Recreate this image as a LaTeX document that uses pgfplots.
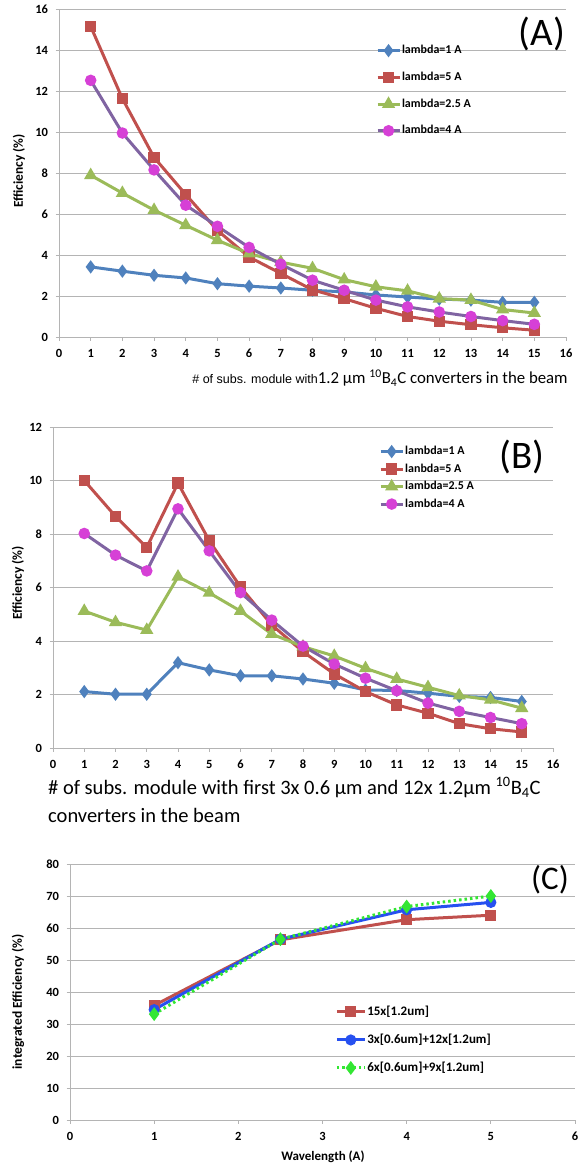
\documentclass[border=0pt]{standalone}
\usepackage{fontspec}
\setmainfont{Carlito}
\newfontfamily\arialfont{Liberation Sans}
\usepackage{pgfplots}
\pgfplotsset{compat=1.18}

\definecolor{xlblue}{HTML}{4F81BD}
\definecolor{xlred}{HTML}{C0504D}
\definecolor{xlgreen}{HTML}{9BBB59}
\definecolor{xlpurple}{HTML}{8064A2}
\definecolor{xlmagenta}{HTML}{D640D6}
\definecolor{cblue}{HTML}{2650F0}
\definecolor{cgreen}{HTML}{33E633}
\definecolor{gridgray}{HTML}{B4B4B4}

\pgfplotsset{
  xlstyle/.style={
    scale only axis,
    axis x line*=bottom, axis y line*=left,
    axis line style={gridgray, line width=0.8pt},
    ymajorgrids, grid style={gridgray, line width=0.8pt},
    tick align=outside, major tick length=3.5pt,
    tick style={gridgray, line width=0.8pt},
    /pgf/number format/assume math mode=true,
    ticklabel style={font=\bfseries\fontsize{12.5}{13}\selectfont},
    xticklabel style={yshift=-5pt},
    yticklabel style={xshift=-4pt},
    clip=false,
    legend cell align=left,
    legend image code/.code={\draw[mark repeat=2,mark phase=2,##1] plot coordinates {(0pt,0pt) (11pt,0pt) (22pt,0pt)};},
  },
  ser/.style={line width=3pt, mark options={solid}},
}

\begin{document}
\begin{tikzpicture}
\path[use as bounding box] (0pt,0pt) rectangle (579pt,-1166pt);

% ---------------- (A)
\begin{axis}[xlstyle,
  at={(59pt,-337pt)}, anchor=south west,
  width=507pt, height=328pt,
  xmin=0, xmax=16, ymin=0, ymax=16,
  xtick={0,1,...,16}, ytick={0,2,...,16},
  legend style={at={(0.619,0.898)}, anchor=north west, draw=none, fill=none,
    font=\bfseries\fontsize{12}{12}\selectfont,
    nodes={text height=8pt, text depth=2pt, inner sep=1pt}, row sep=14.7pt},
]
\addplot[ser, color=xlblue, mark=diamond*, mark size=4.2pt] coordinates {
 (1,3.42)(2,3.21)(3,3.01)(4,2.88)(5,2.6)(6,2.48)(7,2.39)(8,2.28)(9,2.2)(10,2.05)(11,1.95)(12,1.85)(13,1.8)(14,1.69)(15,1.69)};
\addlegendentry{lambda=1 A}
\addplot[ser, color=xlred, mark=square*, mark size=4.2pt] coordinates {
 (1,15.15)(2,11.63)(3,8.76)(4,6.95)(5,5.2)(6,3.9)(7,3.1)(8,2.3)(9,1.87)(10,1.4)(11,1.0)(12,0.77)(13,0.6)(14,0.45)(15,0.33)};
\addlegendentry{lambda=5 A}
\addplot[ser, color=xlgreen, mark=triangle*, mark size=4.7pt] coordinates {
 (1,7.89)(2,7.02)(3,6.19)(4,5.45)(5,4.72)(6,4.07)(7,3.65)(8,3.35)(9,2.8)(10,2.45)(11,2.25)(12,1.87)(13,1.8)(14,1.34)(15,1.17)};
\addlegendentry{lambda=2.5 A}
\addplot[ser, color=xlpurple, mark=*, mark size=4.2pt, mark options={fill=xlmagenta, draw=xlmagenta}] coordinates {
 (1,12.52)(2,9.95)(3,8.15)(4,6.43)(5,5.4)(6,4.37)(7,3.55)(8,2.77)(9,2.28)(10,1.8)(11,1.47)(12,1.22)(13,1.0)(14,0.8)(15,0.62)};
\addlegendentry{lambda=4 A}
\end{axis}

% ---------------- (B)
\begin{axis}[xlstyle,
  at={(53pt,-748pt)}, anchor=south west,
  width=500pt, height=321pt,
  xmin=0, xmax=16, ymin=0, ymax=12,
  xtick={0,1,...,16}, ytick={0,2,...,12},
  legend style={at={(0.646,0.949)}, anchor=north west, draw=none, fill=none,
    font=\bfseries\fontsize{12}{12}\selectfont,
    nodes={text height=8pt, text depth=2pt, inner sep=1pt}, row sep=5.5pt},
]
\addplot[ser, color=xlblue, mark=diamond*, mark size=4.2pt] coordinates {
 (1,2.11)(2,2.01)(3,2.01)(4,3.19)(5,2.92)(6,2.7)(7,2.7)(8,2.58)(9,2.42)(10,2.17)(11,2.15)(12,2.05)(13,1.93)(14,1.89)(15,1.74)};
\addlegendentry{lambda=1 A}
\addplot[ser, color=xlred, mark=square*, mark size=4.2pt] coordinates {
 (1,10.0)(2,8.66)(3,7.5)(4,9.9)(5,7.75)(6,6.02)(7,4.6)(8,3.6)(9,2.77)(10,2.11)(11,1.61)(12,1.3)(13,0.91)(14,0.72)(15,0.6)};
\addlegendentry{lanbda=5 A}
\addplot[ser, color=xlgreen, mark=triangle*, mark size=4.7pt] coordinates {
 (1,5.12)(2,4.7)(3,4.41)(4,6.4)(5,5.8)(6,5.12)(7,4.26)(8,3.79)(9,3.44)(10,2.98)(11,2.58)(12,2.27)(13,1.96)(14,1.8)(15,1.49)};
\addlegendentry{lambda=2.5 A}
\addplot[ser, color=xlpurple, mark=*, mark size=4.2pt, mark options={fill=xlmagenta, draw=xlmagenta}] coordinates {
 (1,8.02)(2,7.21)(3,6.62)(4,8.94)(5,7.37)(6,5.81)(7,4.78)(8,3.81)(9,3.14)(10,2.61)(11,2.14)(12,1.68)(13,1.37)(14,1.14)(15,0.91)};
\addlegendentry{lambda=4 A}
\end{axis}

% ---------------- (C)
\begin{axis}[xlstyle,
  at={(70pt,-1120pt)}, anchor=south west,
  width=505pt, height=256pt,
  xmin=0, xmax=6, ymin=0, ymax=80,
  xtick={0,1,...,6}, ytick={0,10,...,80},
  legend image code/.code={\draw[mark repeat=2,mark phase=2,#1] plot coordinates {(0pt,0pt) (14pt,0pt) (28pt,0pt)};},
  legend style={at={(0.519,0.457)}, anchor=north west, draw=none, fill=none,
    font=\bfseries\fontsize{13}{14}\selectfont,
    nodes={text height=9pt, text depth=2.5pt, inner sep=1pt}, row sep=14.5pt},
]
\addplot[ser, color=xlred, mark=square*, mark size=4pt] coordinates {
 (1,35.8)(2.5,56.3)(4,62.6)(5,64.0)};
\addlegendentry{15x[1.2um]}
\addplot[ser, color=cblue, mark=*, mark size=4pt] coordinates {
 (1,34.5)(2.5,56.5)(4,65.7)(5,68.0)};
\addlegendentry{3x[0.6um]+12x[1.2um]}
\addplot[ser, color=cgreen, dash pattern=on 2.5pt off 3pt, mark=diamond*, mark size=4.5pt] coordinates {
 (1,33.1)(2.5,56.5)(4,66.7)(5,70.0)};
\addlegendentry{6x[0.6um]+9x[1.2um]}
\end{axis}

% ---------------- labels
\node[font=\fontsize{39}{40}\selectfont] at (542pt,-34pt) {(A)};
\node[font=\fontsize{39}{40}\selectfont] at (522pt,-457pt) {(B)};
\node[font=\fontsize{33}{34}\selectfont] at (550pt,-880pt) {(C)};

\node[rotate=90, font=\bfseries\fontsize{13.5}{14}\selectfont] at (19pt,-171pt) {Efficiency (\%)};
\node[rotate=90, font=\bfseries\fontsize{13.5}{14}\selectfont] at (18pt,-583pt) {Efficiency (\%)};
\node[rotate=90, font=\bfseries\fontsize{13.5}{14}\selectfont] at (18pt,-1002pt) {integrated Efficiency (\%)};

\node at (380pt,-378pt) {{\arialfont\fontsize{12.5}{14}\selectfont \# of subs. module with}{\fontsize{16.8}{18}\selectfont 1.2 µm \textsuperscript{10}B\textsubscript{4}C converters in the beam}};
\node[anchor=north west, align=left, inner sep=0pt, font=\fontsize{20.5}{28}\selectfont] at (48pt,-777pt)
  {\# of subs. module with first 3x 0.6 µm and 12x 1.2µm \textsuperscript{10}B\textsubscript{4}C\\converters in the beam};
\node[font=\bfseries\fontsize{13}{14}\selectfont] at (323pt,-1157pt) {Wavelength (A)};
\end{tikzpicture}
\end{document}
